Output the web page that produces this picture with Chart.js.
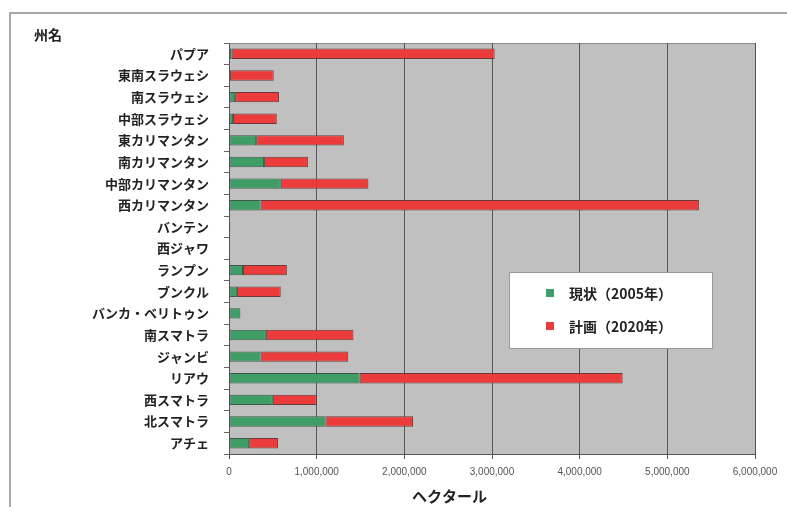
<!DOCTYPE html>
<html>
<head>
<meta charset="utf-8">
<script src="https://cdn.jsdelivr.net/npm/chart.js@4/dist/chart.umd.min.js"></script>
<style>
html,body{margin:0;padding:0;background:#fff;}
#wrap{width:787px;height:507px;position:relative;}
</style>
</head>
<body>
<div id="wrap"><canvas id="c" width="787" height="507"></canvas></div>
<script>
const categories = ['パプア','東南スラウェシ','南スラウェシ','中部スラウェシ','東カリマンタン','南カリマンタン','中部カリマンタン','西カリマンタン','バンテン','西ジャワ','ランプン','ブンクル','バンカ・ベリトゥン','南スマトラ','ジャンビ','リアウ','西スマトラ','北スマトラ','アチェ'];
const current2005 = [30000, 10000, 70000, 45000, 310000, 400000, 590000, 360000, 15000, 0, 160000, 90000, 130000, 420000, 360000, 1490000, 500000, 1100000, 230000];
const plan2020 = [3000000, 500000, 500000, 500000, 1000000, 500000, 1000000, 5000000, 0, 0, 500000, 500000, 0, 1000000, 1000000, 3000000, 500000, 1000000, 330000];
const seriesLabels = ['現状（2005年）', '計画（2020年）'];
const xTicks = [0, 1000000, 2000000, 3000000, 4000000, 5000000, 6000000];
const yTitle = '州名';
const xTitle = 'ヘクタール';

const GREEN = '#3f9e66';
const RED = '#ec3b3b';
const JP = '"Noto Sans CJK JP", "Noto Sans", sans-serif';

const decor = {
  id: 'decor',
  beforeDraw(chart) {
    const ctx = chart.ctx, a = chart.chartArea;
    ctx.save();
    ctx.strokeStyle = '#a8a8a8';
    ctx.lineWidth = 2;
    ctx.beginPath();
    ctx.moveTo(10, 507); ctx.lineTo(10, 13); ctx.lineTo(787, 13);
    ctx.stroke();
    ctx.fillStyle = '#c0c0c0';
    ctx.fillRect(a.left, a.top, a.right - a.left, a.bottom - a.top);
    ctx.strokeStyle = '#8a8a8a';
    ctx.lineWidth = 1;
    ctx.strokeRect(a.left + 0.5, a.top + 0.5, a.right - a.left, a.bottom - a.top);
    ctx.restore();
  },
  afterDraw(chart) {
    const ctx = chart.ctx, a = chart.chartArea;
    ctx.save();
    ctx.fillStyle = '#222';
    ctx.font = 'bold 14px ' + JP;
    ctx.textAlign = 'left';
    ctx.textBaseline = 'middle';
    ctx.fillText(yTitle, 34, 35);
    ctx.font = 'bold 15px ' + JP;
    ctx.textAlign = 'center';
    ctx.fillText(xTitle, a.left + (a.right - a.left) * 0.419, 496);
    const lx = a.left + 280, ly = 272, lw = 203, lh = 76;
    ctx.fillStyle = '#fff';
    ctx.fillRect(lx, ly, lw, lh);
    ctx.strokeStyle = '#9a9a9a';
    ctx.lineWidth = 1;
    ctx.strokeRect(lx + 0.5, ly + 0.5, lw, lh);
    const cols = [GREEN, RED];
    ctx.font = 'bold 14px ' + JP;
    ctx.textAlign = 'left';
    for (let i = 0; i < 2; i++) {
      const cy = ly + 21 + i * 33;
      ctx.fillStyle = cols[i];
      ctx.fillRect(lx + 37, cy - 4, 8, 8);
      ctx.fillStyle = '#222';
      ctx.fillText(chart.data.datasets[i].label, lx + 60, cy + 1);
    }
    ctx.restore();
  }
};

new Chart(document.getElementById('c'), {
  type: 'bar',
  data: {
    labels: categories,
    datasets: [
      { label: seriesLabels[0], data: current2005, backgroundColor: GREEN, borderColor: '#3d5a48', borderWidth: 1, borderSkipped: false, categoryPercentage: 1, barPercentage: 0.48 },
      { label: seriesLabels[1], data: plan2020, backgroundColor: RED, borderColor: '#6a3a3a', borderWidth: 1, borderSkipped: false, categoryPercentage: 1, barPercentage: 0.48 }
    ]
  },
  options: {
    indexAxis: 'y',
    responsive: false,
    animation: false,
    layout: { padding: { top: 43, right: 32, bottom: 0, left: 0 } },
    plugins: { legend: { display: false }, tooltip: { enabled: false } },
    scales: {
      x: {
        stacked: true,
        min: 0, max: 6000000,
        afterBuildTicks(scale) { scale.ticks = xTicks.map(v => ({ value: v })); },
        afterFit(scale) { scale.height = 53; },
        grid: { color: '#555', lineWidth: 1, tickLength: 5, drawTicks: true },
        border: { color: '#555' },
        ticks: {
          padding: 7,
          color: '#555',
          font: { family: '"Liberation Sans", Arial, sans-serif', size: 10 },
          callback: v => Number(v).toLocaleString('en-US')
        }
      },
      y: {
        stacked: true,
        afterFit(scale) { scale.width = 229; },
        grid: { drawOnChartArea: false, drawTicks: true, tickLength: 5, color: '#666', offset: true },
        border: { color: '#555' },
        ticks: {
          padding: 15,
          color: '#222',
          autoSkip: false,
          font: { family: JP, size: 13, weight: 'bold' }
        }
      }
    }
  },
  plugins: [decor]
});
</script>
</body>
</html>
